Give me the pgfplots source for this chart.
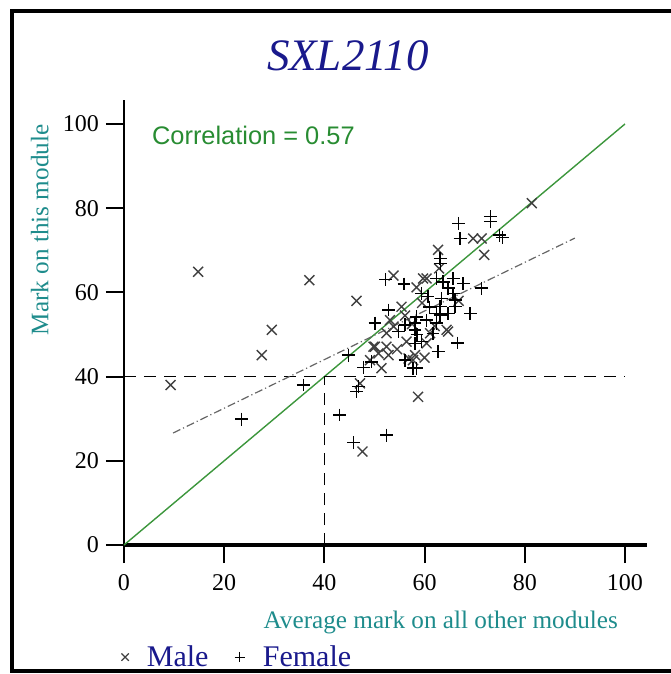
\documentclass[border=0pt]{standalone}
\usepackage{fontspec}
\setmainfont{Liberation Serif}
\setsansfont{Liberation Sans}
\usepackage{pgfplots}
\pgfplotsset{compat=1.18}
\definecolor{navy}{RGB}{25,25,140}
\definecolor{tealc}{RGB}{30,140,140}
\definecolor{corrg}{RGB}{40,140,50}
\definecolor{lineg}{RGB}{60,150,60}
\begin{document}
\begin{tikzpicture}
\begin{axis}[
  scale only axis, width=261.5pt, height=222.5pt,
  xmin=0, xmax=104.4, ymin=0, ymax=105.7,
  axis lines=left, axis line style={-},
  x axis line style={line width=1.6pt},
  y axis line style={line width=1pt},
  xtick={0,20,...,100}, ytick={0,20,...,100},
  tick align=outside, major tick length=9pt,
  tick style={black, line width=1pt},
  /pgf/number format/assume math mode=true,
  tick label style={font=\fontsize{12}{14}\selectfont},
  xticklabel style={yshift=-2pt},
  title={SXL2110},
  title style={at={(axis description cs:0.428,1.072)}, anchor=center, font=\fontsize{22.5}{26}\selectfont\itshape, text=navy},
  xlabel={Average mark on all other modules},
  xlabel style={at={(axis description cs:0.958,-0.173)}, anchor=east, font=\fontsize{12.6}{15}\selectfont, text=tealc},
  ylabel={Mark on this module},
  ylabel style={at={(axis description cs:-0.161,0.708)}, anchor=center, font=\fontsize{12.6}{15}\selectfont, text=tealc},
  legend columns=2,
  legend style={at={(axis description cs:-0.017,-0.252)}, anchor=west, draw=none, fill=none, font=\fontsize{15}{17}\selectfont, text=navy,
    /tikz/every odd column/.append style={column sep=7pt},
    /tikz/every even column/.append style={column sep=11pt}},
  legend image post style={mark size=2.6pt, line width=0.6pt},
  clip=false,
]
\addplot[forget plot, lineg, line width=0.7pt] coordinates {(0,0) (100,100)};
\addplot[forget plot, black, line width=0.6pt, dash pattern=on 6pt off 4pt] coordinates {(0,40) (100,40)};
\addplot[forget plot, black, line width=0.6pt, dash pattern=on 6pt off 4pt] coordinates {(40,0) (40,40)};
\addplot[forget plot, black!60, line width=0.6pt, dash pattern=on 4pt off 1.5pt on 0.6pt off 1.5pt] coordinates {(9.8,26.6) (90,72.9)};
\addplot[only marks, mark=x, mark size=3.5pt, draw=black!75, line width=0.7pt] coordinates {
(9.3,38) (14.8,64.9) (27.5,45.1) (29.5,51.1) (37.0,62.9) (46.4,58) (47.1,38.4) (47.6,22.2) (58.7,35.2) (81.4,81.2)
(71.9,68.9) (69.7,72.8) (71.4,72.8) (62.7,70.1) (53.8,64) (58.4,61.2) (59.7,63.3) (60.4,63.3) (62.9,65.7) (53.1,53.4)
(52.4,50.3) (56.4,48.3) (50.1,47.1) (52.4,47.1) (50.8,45.5) (52.8,45.1) (49.1,43.9) (51.4,42) (58.1,45.1) (56.8,44.3)
(57.7,43.9) (60.4,47.9) (64.7,50.7) (61.1,50.3) (64.4,51.1) (55.4,56.6) (56.1,54.5) (53.8,51.9) (66.8,58.0) (59.5,57.5)
(57.5,52.5) (62.0,52) (49.8,47.1) (54.5,46.5) (60.0,44.5)
};
\addlegendentry{Male}
\addplot[only marks, mark=+, mark size=3.2pt, black, line width=0.7pt] coordinates {
(23.5,29.9) (35.8,38) (43.0,30.9) (45.8,24.3) (52.4,26.1) (46.4,36.4) (46.8,37.6) (47.8,42.2) (44.8,45.1) (49.4,43.5)
(56.1,43.9) (57.7,42) (58.4,42) (66.8,76.4) (67.1,72.8) (73.1,78) (73.1,76.8) (75.0,73.6) (75.6,73.1) (63.1,68.1)
(63.2,66.9) (52.2,63.1) (55.9,62) (62.4,63.3) (63.7,62.5) (65.7,63.3) (67.7,62.1) (71.4,61) (64.7,61) (59.4,59.8)
(60.7,59) (63.4,58.6) (65.7,59.8) (66.1,58.2) (66.1,56.6) (63.1,56.6) (62.4,55) (64.7,55) (69.1,55) (52.8,55.8)
(50.1,52.7) (54.8,50.7) (56.1,52.3) (58.4,54.2) (58.1,52.7) (58.1,51.1) (58.1,47.9) (60.4,53.4) (62.4,52.7) (59.4,48.3)
(61.7,50.3) (66.6,48) (62.7,45.9) (63.1,54.6) (61.0,56.5) (58.5,50)
};
\addlegendentry{Female}
\node[anchor=west, font=\sffamily\fontsize{12.7}{15}\selectfont, text=corrg] at (axis cs:4.2,97.4) {Correlation = 0.57};
\coordinate (O) at (axis cs:0,0);
\end{axis}
\begin{scope}[shift={(O)},x=0.5pt,y=-0.5pt]
\begin{scope}[shift={(-124,-545)}]
\draw[line width=2pt] (700,11) -- (12,11) -- (12,671) -- (700,671);
\pgfresetboundingbox
\path[use as bounding box] (0,0) rectangle (670,674);
\end{scope}
\end{scope}
\end{tikzpicture}
\end{document}
